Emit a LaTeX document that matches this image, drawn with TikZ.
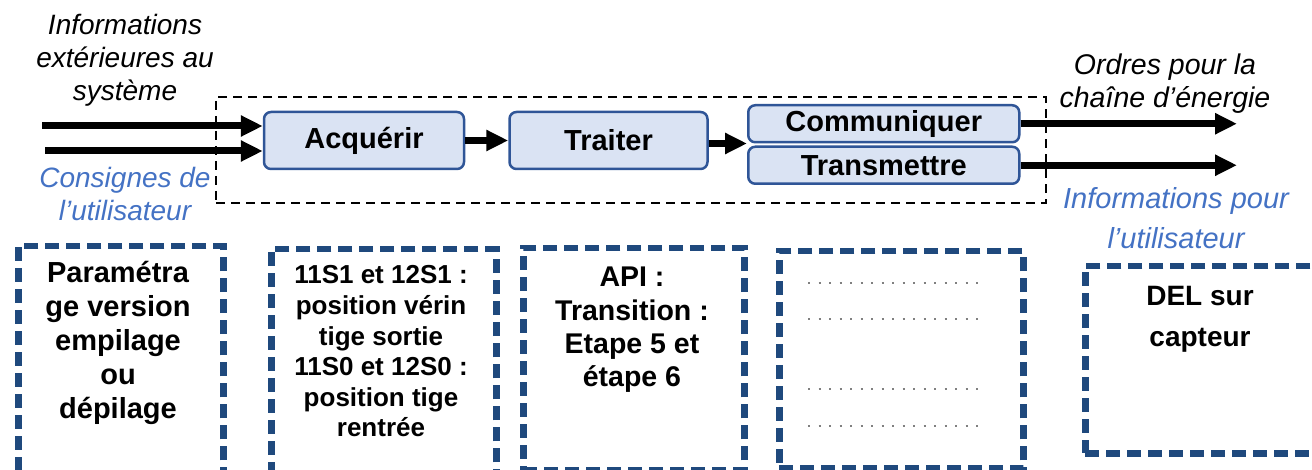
\documentclass[tikz,border=0pt]{standalone}
\usepackage{fontspec}
\setmainfont{Liberation Sans}
\usetikzlibrary{arrows.meta, positioning}
\definecolor{fondbleu}{HTML}{DAE3F3}
\definecolor{bordbleu}{HTML}{2F5597}
\definecolor{textebleu}{HTML}{4472C4}
\definecolor{cadrebleu}{HTML}{1F497D}
\newcommand*{\taille}[2]{\fontsize{#1}{#2}\selectfont}

\begin{document}
\begin{tikzpicture}[x=1pt,y=-1pt,>={Triangle[length=22pt,width=20pt]},
      fct/.style={draw=bordbleu,fill=fondbleu,line width=2.5pt,rounded corners=7pt,
        inner sep=0pt,font=\taille{29}{30}\bfseries},
      flux/.style={->,line width=7pt},
      legende/.style={align=center,font=\taille{28}{33}\itshape},
      cadre/.style={draw=cadrebleu,line width=6.5pt,dash pattern=on 14pt off 7pt,inner sep=0pt},
      contenu/.style={align=center,font=\bfseries},
      systeme/.style={draw,line width=2.5pt,dash pattern=on 9pt off 6pt,inner sep=0pt},
      pointille/.style={draw=gray,line width=2pt,dash pattern=on 2pt off 8.5pt}]
      \clip (0,0) rectangle (1312,470);
      % chaine d'information
      \node[systeme,minimum width=830pt,minimum height=106pt] (sys) at (631,150) {};
      \node[fct,minimum width=200pt,minimum height=57pt] (acq) at (364,140.5) {Acquérir};
      \node[fct,minimum width=198pt,minimum height=57pt] (trait) [right=43pt of acq] {Traiter};
      \node[fct,minimum width=271pt,minimum height=37pt,anchor=south west] (com) at (747,143.5) {Communiquer};
      \node[fct,minimum width=271pt,minimum height=37pt] (tra) [below=2pt of com] {Transmettre};
      \coordinate (e1) at (42,126);
      \coordinate (e2) at (45,151);
      \coordinate (s1) at (1237,0);
      \draw[flux] (e1) -- (e1 -| acq.west);
      \draw[flux] (e2) -- (e2 -| acq.west);
      \draw[flux] (acq) -- (trait);
      \draw[flux] (com.south west -| trait.east) -- (com.south west);
      \draw[flux] (com.east) -- (com.east -| s1);
      \draw[flux] (tra.east) -- (tra.east -| s1);
      \node[legende] (infoext) at (125,60) {Informations\\extérieures au\\système};
      \node[legende,text=textebleu] (consignes) at (125,193.5) {Consignes de\\l’utilisateur};
      \node[legende,font=\taille{28.5}{33}\itshape] (ordres) at (1165,83.5) {Ordres pour la\\chaîne d’énergie};
      \node[legende,text=textebleu,font=\taille{29}{40}\itshape] (infouti) at (1176,218) {Informations pour\\l’utilisateur};
      % cadres du bas
      \node[cadre,minimum width=205pt,minimum height=240pt,anchor=north west] (c1) at (15,243) {};
      \node[cadre,minimum width=225pt,minimum height=240pt,anchor=north west] (c2) at (268,246) {};
      \node[cadre,minimum width=221pt,minimum height=222pt,anchor=north west] (c3) at (520,245) {};
      \node[cadre,minimum width=244pt,minimum height=217pt,anchor=north west] (c4) at (776,248) {};
      \node[cadre,minimum width=250pt,minimum height=187pt,anchor=north west] (c5) at (1082,263) {};
      \node[contenu,font=\taille{29}{34}\bfseries] (t1) at (118,342.5) {Paramétra\\ge version\\empilage\\ou\\dépilage};
      \node[contenu,font=\taille{26}{30.6}\bfseries] (t2) at (381,351.5) {11S1 et 12S1 :\\position vérin\\tige sortie\\11S0 et 12S0 :\\position tige\\rentrée};
      \node[contenu,font=\taille{28.5}{33.4}\bfseries] (t3) at (632,330) {API :\\Transition :\\Etape 5 et\\étape 6};
      \node[contenu,font=\taille{28}{41}\bfseries] (t5) at (1200,319) {DEL sur\\capteur};
      \foreach \y in {283,319,389,426}
        \draw[pointille] (808,\y) -- (985,\y);
    \end{tikzpicture}
\end{document}
